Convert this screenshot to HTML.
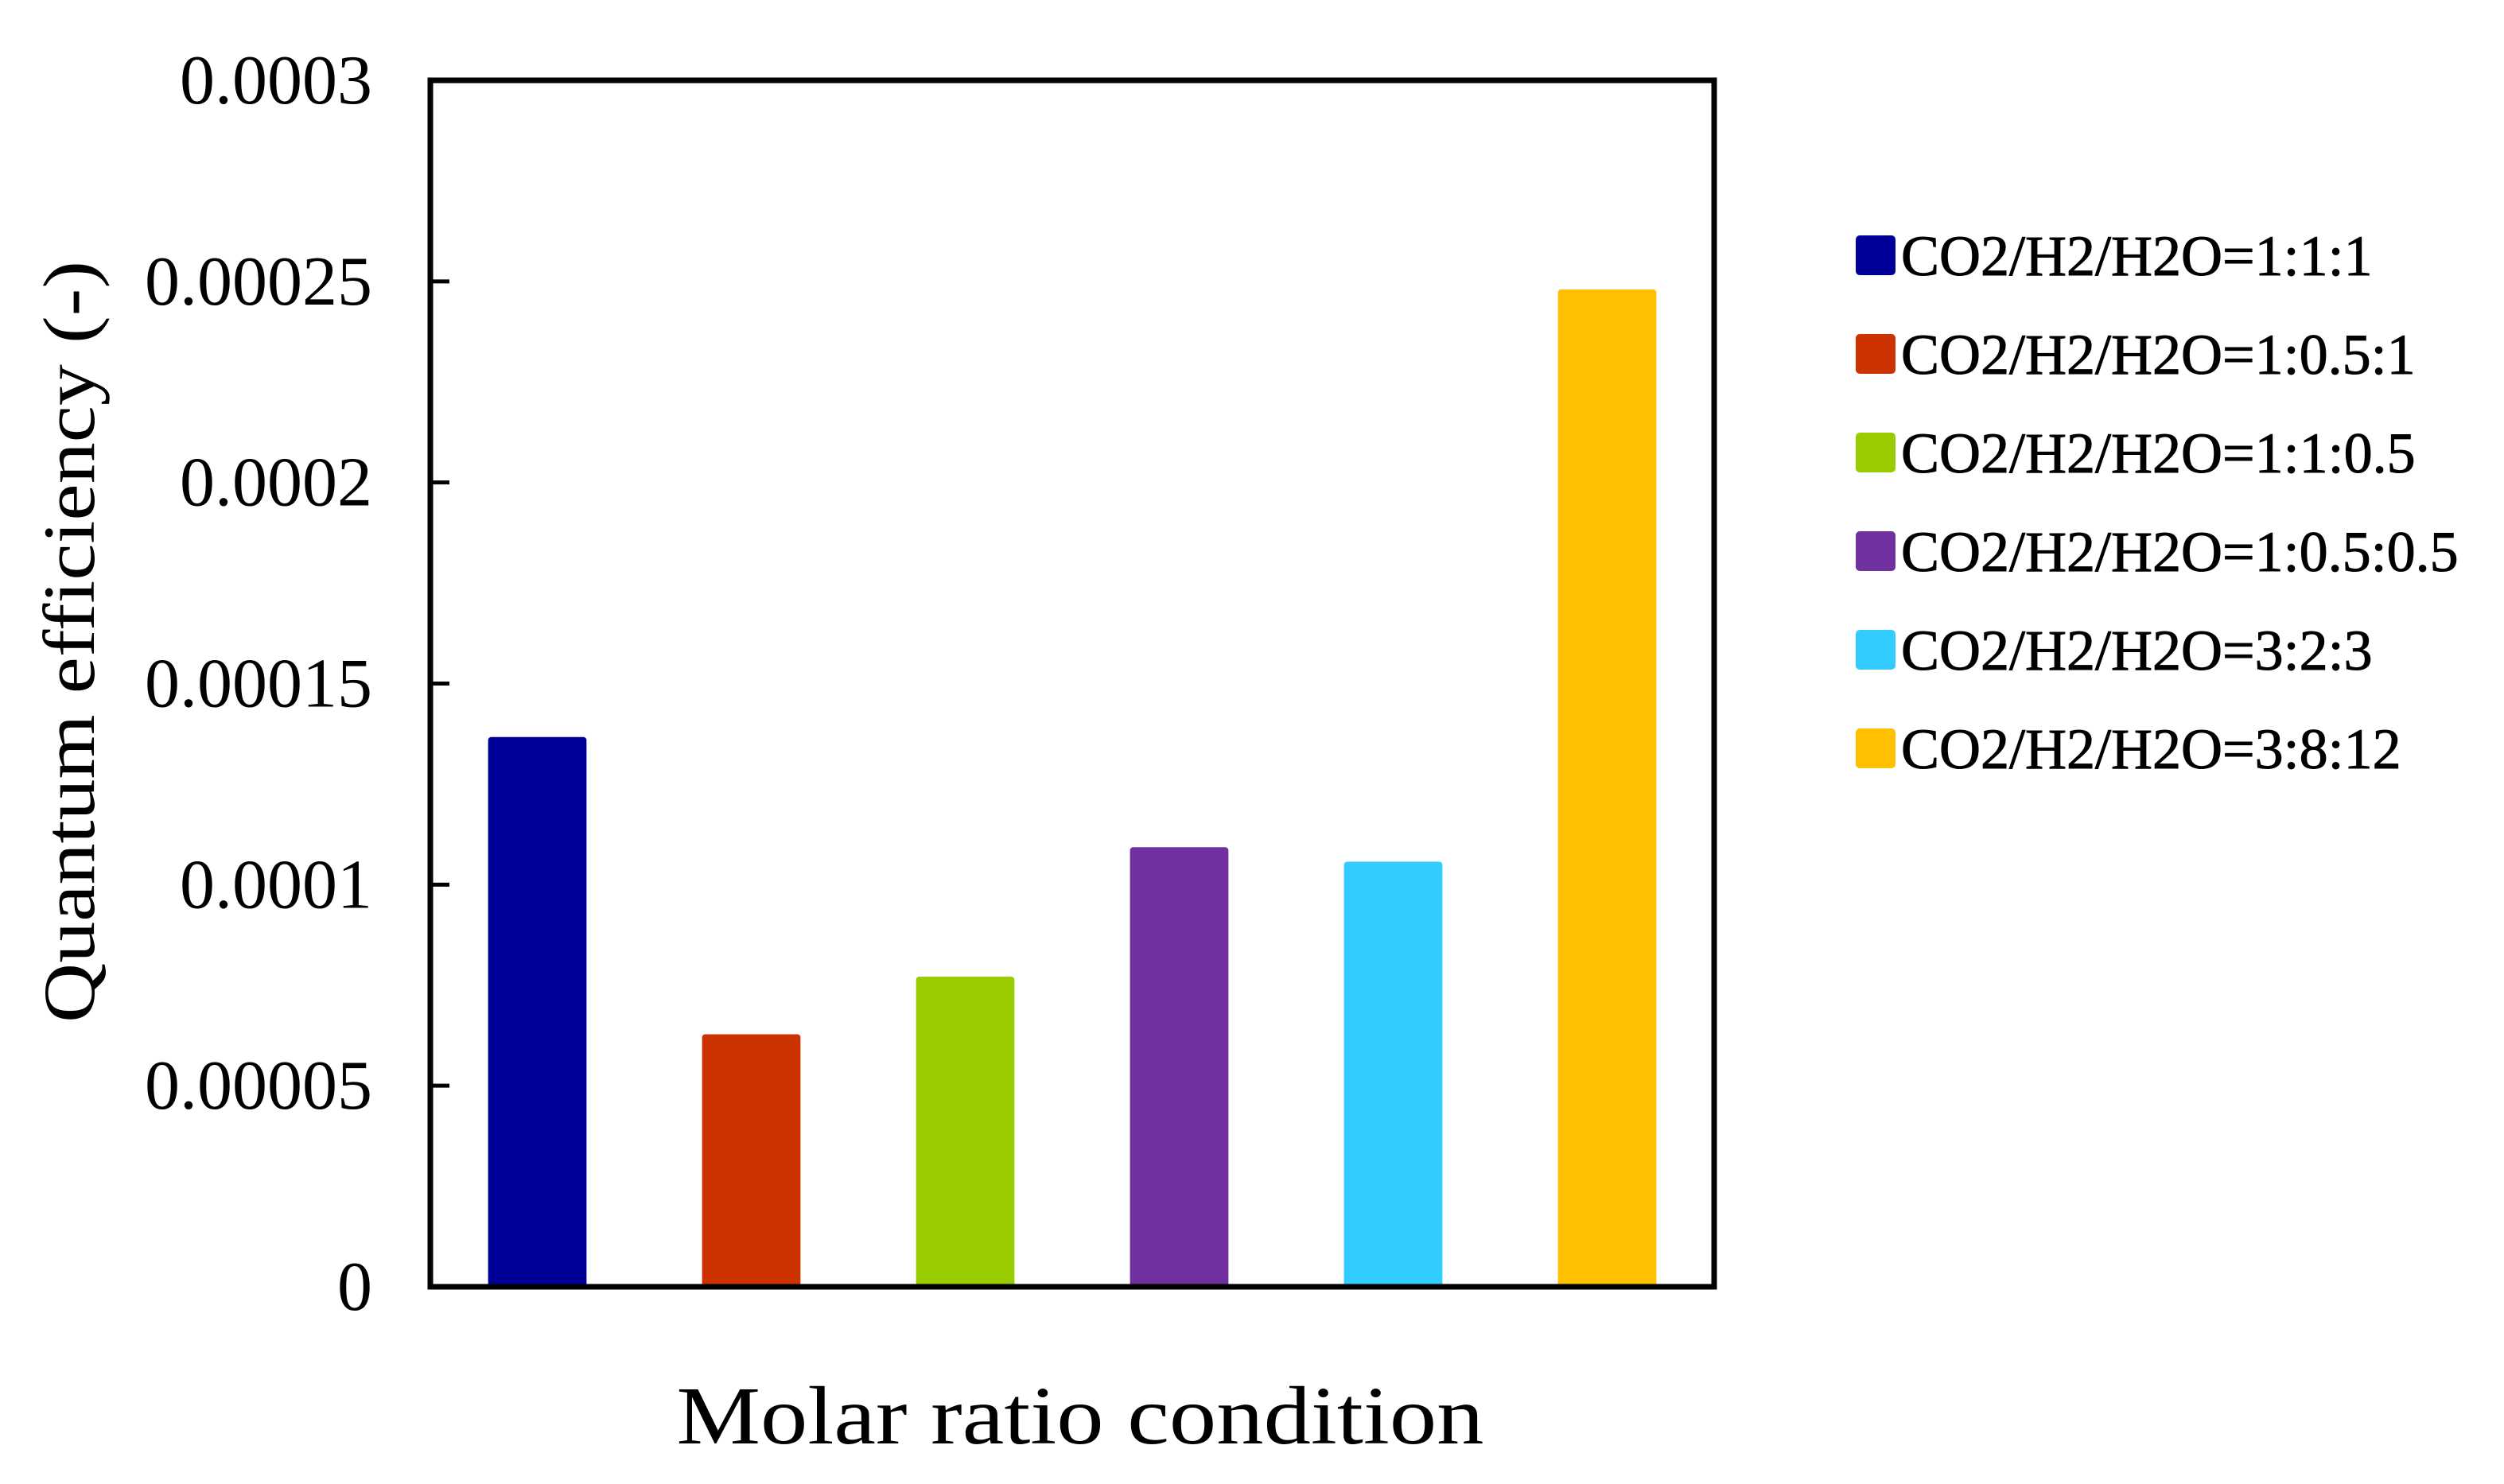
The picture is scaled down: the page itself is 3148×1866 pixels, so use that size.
<!DOCTYPE html>
<html><head><meta charset="utf-8"><style>
html,body{margin:0;padding:0;background:#fff;}
svg{display:block;font-family:"Liberation Serif",serif;}
</style></head><body>
<svg id="chart" width="3148" height="1866" viewBox="0 0 3148 1866" xmlns="http://www.w3.org/2000/svg">
<rect x="0" y="0" width="3148" height="1866" fill="#fff"/>
<g id="bars"></g>
<g id="yticks"></g>
<rect x="541" y="101" width="1614" height="1517" fill="none" stroke="#000" stroke-width="7"/>
<text transform="translate(118,807) rotate(-90)" text-anchor="middle" font-size="92" textLength="958" lengthAdjust="spacingAndGlyphs">Quantum efficiency (-)</text>
<text x="1358" y="1815" text-anchor="middle" font-size="104" textLength="1015" lengthAdjust="spacingAndGlyphs">Molar ratio condition</text>
<g id="legend"></g>
</svg>
<script>
const categories = ["CO2/H2/H2O=1:1:1","CO2/H2/H2O=1:0.5:1","CO2/H2/H2O=1:1:0.5","CO2/H2/H2O=1:0.5:0.5","CO2/H2/H2O=3:2:3","CO2/H2/H2O=3:8:12"];
const values = [0.0001367, 0.0000628, 0.0000771, 0.0001093, 0.0001057, 0.000248];
const colors = ["#000099","#cc3300","#99cc00","#7030a0","#33ccff","#ffc000"];
const yTicks = [0, 0.00005, 0.0001, 0.00015, 0.0002, 0.00025, 0.0003];
const yTickLabels = ["0","0.00005","0.0001","0.00015","0.0002","0.00025","0.0003"];

const NS = "http://www.w3.org/2000/svg";
const L = 541, R = 2155, T = 101, B = 1618, YMAX = 0.0003;
const y = v => B - v / YMAX * (B - T);
const band = (R - L) / categories.length;
const x = i => L + band * (i + 0.5);
const bw = band * 0.46;

const gb = document.getElementById("bars");
values.forEach((v, i) => {
  const r = document.createElementNS(NS, "rect");
  
  
  r.setAttribute("x", x(i) - bw / 2);
  r.setAttribute("y", y(v));
  r.setAttribute("width", bw);
  r.setAttribute("height", B - y(v));
  r.setAttribute("rx", 4);
  r.setAttribute("fill", colors[i]);
  gb.appendChild(r);
});

const gy = document.getElementById("yticks");
yTicks.forEach((t, i) => {
  const ln = document.createElementNS(NS, "line");
  
  
  ln.setAttribute("x1", L); ln.setAttribute("x2", L + 24);
  ln.setAttribute("y1", y(t)); ln.setAttribute("y2", y(t));
  ln.setAttribute("stroke", "#000"); ln.setAttribute("stroke-width", 5);
  gy.appendChild(ln);
  const tx = document.createElementNS(NS, "text");
  
  
  tx.setAttribute("x", 468);
  tx.setAttribute("y", y(t) + 29);
  tx.setAttribute("text-anchor", "end");
  tx.setAttribute("font-size", 88);
  tx.textContent = yTickLabels[i];
  gy.appendChild(tx);
});

const gl = document.getElementById("legend");
categories.forEach((c, i) => {
  const cy = 321 + i * 124;
  const g = document.createElementNS(NS, "g");
  
  
  const s = document.createElementNS(NS, "rect");
  
  
  s.setAttribute("x", 2333); s.setAttribute("y", cy - 25);
  s.setAttribute("width", 50); s.setAttribute("height", 50);
  s.setAttribute("rx", 5);
  s.setAttribute("fill", colors[i]);
  g.appendChild(s);
  const t = document.createElementNS(NS, "text");
  
  
  t.setAttribute("x", 2390); t.setAttribute("y", cy + 25);
  t.setAttribute("font-size", 72);
  t.setAttribute("stroke", "#000");
  t.setAttribute("stroke-width", 1);
  t.textContent = c;
  g.appendChild(t);
  gl.appendChild(g);
});
</script>
</body></html>
